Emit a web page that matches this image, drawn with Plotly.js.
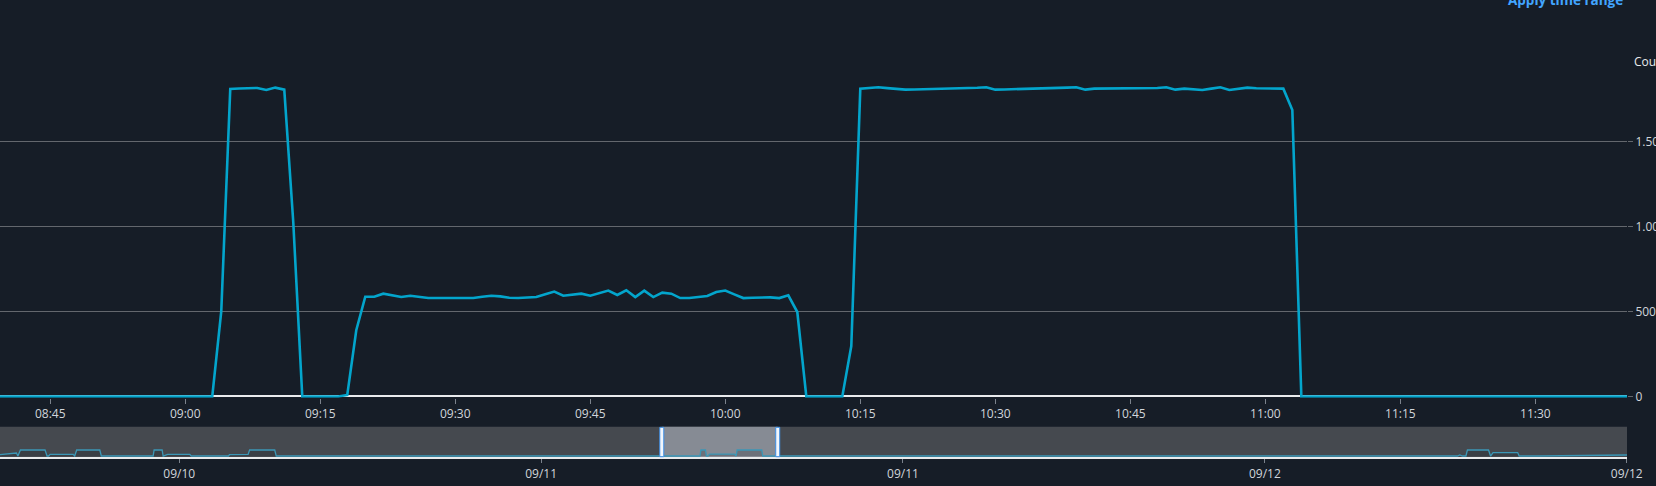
<!DOCTYPE html>
<html>
<head>
<meta charset="utf-8">
<script src="https://cdn.plot.ly/plotly-3.0.1.min.js"></script>
<style>
html,body{margin:0;padding:0;background:#161d27;overflow:hidden}
#chart{width:1656px;height:486px}
</style>
</head>
<body>
<div id="chart"></div>
<script>
// ---------- data ----------
const day = '2024-09-11';

const times = [
 '08:39','09:03','09:04','09:05','09:06','09:07','09:08','09:09','09:10','09:11','09:12','09:13',
 '09:17','09:18','09:19','09:20','09:21','09:22','09:23','09:24','09:25','09:26','09:27','09:28',
 '09:29','09:30','09:31','09:32','09:33','09:34','09:35','09:36','09:37','09:38','09:39','09:40',
 '09:41','09:42','09:43','09:44','09:45','09:46','09:47','09:48','09:49','09:50','09:51','09:52',
 '09:53','09:54','09:55','09:56','09:57','09:58','09:59','10:00','10:01','10:02','10:03','10:04',
 '10:05','10:06','10:07','10:08','10:09',
 '10:13','10:14','10:15','10:16','10:17','10:18','10:19','10:20','10:21','10:22','10:23','10:24',
 '10:25','10:26','10:27','10:28','10:29','10:30','10:31','10:32','10:33','10:34','10:35','10:36',
 '10:37','10:38','10:39','10:40','10:41','10:42','10:43','10:44','10:45','10:46','10:47','10:48',
 '10:49','10:50','10:51','10:52','10:53','10:54','10:55','10:56','10:57','10:58','10:59','11:00',
 '11:01','11:02','11:03','11:04','11:41'
];
const counts = [
 0,0,500,1809,1812,1815,1815,1803,1817,1805,1025,0,
 0,9,390,587,587,605,595,585,593,587,579,579,
 579,579,579,579,587,593,589,581,579,581,585,601,
 617,593,599,605,593,607,623,597,625,585,623,585,
 611,605,579,579,585,591,615,623,601,579,581,583,
 583,579,595,497,0,
 0,297,1811,1816,1819,1814,1809,1805,1806,1807,1808,1810,
 1811,1813,1814,1816,1819,1805,1806,1807,1808,1810,1811,1813,
 1815,1817,1819,1805,1811,1811,1811,1811,1811,1812,1813,1815,
 1819,1805,1811,1807,1803,1811,1819,1803,1809,1817,1813,1811,
 1811,1811,1685,0,0
];

// overview (range selector) series
const overviewTimes = [
 '2024-09-10 06:00','2024-09-10 06:36','2024-09-10 06:39','2024-09-10 06:44','2024-09-10 07:33',
 '2024-09-10 07:37','2024-09-10 07:40','2024-09-10 07:43','2024-09-10 08:29','2024-09-10 08:32',
 '2024-09-10 08:36','2024-09-10 09:22','2024-09-10 09:25','2024-09-10 11:08','2024-09-10 11:10',
 '2024-09-10 11:26','2024-09-10 11:28','2024-09-10 11:37','2024-09-10 12:21','2024-09-10 12:24',
 '2024-09-10 13:38','2024-09-10 13:40','2024-09-10 14:17','2024-09-10 14:20','2024-09-10 15:10',
 '2024-09-10 15:13',
 '2024-09-11 05:16','2024-09-11 05:18','2024-09-11 05:27','2024-09-11 05:29','2024-09-11 05:32',
 '2024-09-11 05:35','2024-09-11 06:25','2024-09-11 06:27','2024-09-11 06:28','2024-09-11 06:30',
 '2024-09-11 07:19','2024-09-11 07:21',
 '2024-09-12 06:23','2024-09-12 06:28','2024-09-12 06:33','2024-09-12 06:40','2024-09-12 06:43',
 '2024-09-12 07:25','2024-09-12 07:29','2024-09-12 07:34','2024-09-12 08:23','2024-09-12 08:26',
 '2024-09-12 09:06','2024-09-12 12:01'
];
const overviewCounts = [
 400,900,0,1815,1815,
 0,0,500,500,0,
 1815,1815,0,0,1815,
 1815,0,500,500,0,
 0,400,500,1815,1815,
 0,
 0,1815,1815,0,0,
 590,590,0,0,1815,
 1815,0,
 0,350,0,0,1815,
 1815,0,1050,1050,0,
 0,300
];

const yTickVals = [0, 500, 1000, 1500];
const yTickText = ['0', '500', '1.00k', '1.50k'];

const mainStart = day + ' 08:39:25';
const mainEnd = day + ' 11:40:11';
const overviewStart = '2024-09-10 06:03:24';
const overviewEnd = '2024-09-12 12:00:30';
const windowStart = '2024-09-11 04:00:06';
const windowEnd = '2024-09-11 07:50:48';

// ---------- styling ----------
const BG = '#161d27';
const LINE = '#03a5cc';
const GRID = '#63676d';
const TICKC = '#7b828c';
const LABEL = '#d1d5db';
const AXISW = '#e9ebed';
const FONT = '"Open Sans", "Noto Sans", sans-serif';

const traces = [
  {
    x: times.map(t => day + ' ' + t),
    y: counts,
    type: 'scatter', mode: 'lines',
    line: {color: LINE, width: 2.6},
    xaxis: 'x', yaxis: 'y',
    hoverinfo: 'x+y', showlegend: false
  },
  {
    x: overviewTimes,
    y: overviewCounts,
    type: 'scatter', mode: 'lines',
    line: {color: '#3b97b6', width: 1.3},
    fill: 'tozeroy', fillcolor: 'rgba(20,25,32,0.22)',
    xaxis: 'x2', yaxis: 'y2',
    hoverinfo: 'skip', showlegend: false
  }
];

const plotRight = 1627 / 1656;

const layout = {
  width: 1656, height: 486,
  margin: {l: 0, r: 0, t: 0, b: 0},
  paper_bgcolor: BG, plot_bgcolor: BG,
  font: {family: FONT, size: 12, color: LABEL},
  showlegend: false,
  xaxis: {
    type: 'date', range: [mainStart, mainEnd],
    domain: [0, plotRight], anchor: 'y',
    tickformat: '%H:%M', dtick: 900000, tick0: day + ' 00:00',
    ticks: 'outside', ticklen: 5, tickcolor: TICKC, tickwidth: 1,
    showgrid: false, zeroline: false, showline: false,
    tickfont: {family: FONT, size: 12, color: LABEL},
    layer: 'below traces'
  },
  yaxis: {
    range: [-8, 1990], domain: [0.18136, 0.88025], anchor: 'x',
    side: 'right',
    tickvals: yTickVals, ticktext: yTickText,
    ticks: 'outside', ticklen: 5, tickcolor: GRID, tickwidth: 1,
    showgrid: true, gridcolor: GRID, gridwidth: 1,
    zeroline: true, zerolinecolor: AXISW, zerolinewidth: 2,
    showline: false,
    tickfont: {family: FONT, size: 12, color: LABEL},
    layer: 'below traces'
  },
  xaxis2: {
    type: 'date', range: [overviewStart, overviewEnd],
    domain: [0, plotRight], anchor: 'y2',
    tickformat: '%m/%d', dtick: 43200000, tick0: '2024-09-10 00:00',
    ticks: 'outside', ticklen: 4, tickcolor: TICKC, tickwidth: 1,
    showgrid: false, zeroline: false,
    showline: true, linecolor: AXISW, linewidth: 2,
    tickfont: {family: FONT, size: 12, color: LABEL}
  },
  yaxis2: {
    range: [-390, 8880], domain: [1 - 457.3/486, 1 - 426.7/486], anchor: 'x2',
    showgrid: false, zeroline: false, showline: false,
    showticklabels: false, ticks: ''
  },
  shapes: [
    {type: 'rect', xref: 'x2 domain', yref: 'y2 domain', x0: 0, x1: 1, y0: 0, y1: 1,
     fillcolor: '#45494f', line: {width: 0}, layer: 'below'},
    {type: 'rect', xref: 'x2', yref: 'y2 domain', x0: windowStart, x1: windowEnd, y0: 0, y1: 1,
     fillcolor: '#868b94', line: {width: 0}, layer: 'below'},
    {type: 'rect', xref: 'x2', yref: 'y2 domain', xsizemode: 'pixel', xanchor: windowStart,
     x0: -2, x1: 2, y0: 0.02, y1: 0.98,
     fillcolor: '#f2f6fb', line: {color: '#3d8fe6', width: 1}, layer: 'above'},
    {type: 'rect', xref: 'x2', yref: 'y2 domain', xsizemode: 'pixel', xanchor: windowEnd,
     x0: -2, x1: 2, y0: 0.02, y1: 0.98,
     fillcolor: '#f2f6fb', line: {color: '#3d8fe6', width: 1}, layer: 'above'}
  ],
  annotations: [
    {text: 'Count', xref: 'paper', yref: 'paper', x: 1632/1656, y: 1 - 61.7/486,
     xanchor: 'left', yanchor: 'middle', showarrow: false,
     font: {family: FONT, size: 12, color: '#e9ebed'}},
    {text: '<b>Apply time range</b>', xref: 'paper', yref: 'paper', x: 1625/1656, y: 1 - 0.2/486,
     xanchor: 'right', yanchor: 'middle', showarrow: false,
     font: {family: FONT, size: 13.5, color: '#42a5ff'}}
  ]
};

Plotly.newPlot('chart', traces, layout, {displayModeBar: false, staticPlot: true});
</script>
</body>
</html>
